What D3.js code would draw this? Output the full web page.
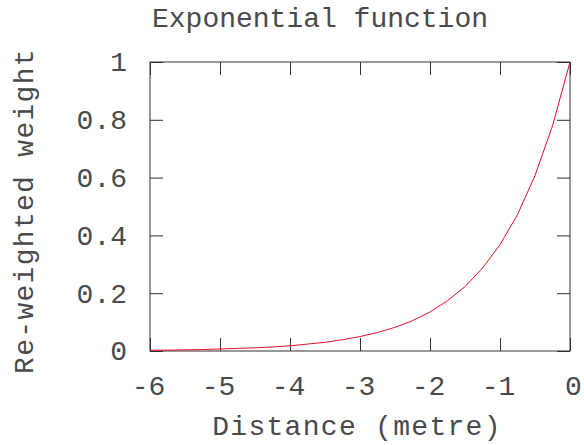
<!DOCTYPE html>
<html>
<head>
<meta charset="utf-8">
<script src="https://cdn.jsdelivr.net/npm/d3@7"></script>
<style>
  body { margin: 0; background: #fff; }
</style>
</head>
<body>
<div id="chart"></div>
<script>
// values
const distance = [-6, -5.75, -5.5, -5.25, -5, -4.75, -4.5, -4.25, -4, -3.75, -3.5, -3.25,
  -3, -2.75, -2.5, -2.25, -2, -1.75, -1.5, -1.25, -1, -0.75, -0.5, -0.25, 0];
const weight = [0.0025, 0.003, 0.004, 0.005, 0.007, 0.009, 0.011, 0.014, 0.018, 0.024, 0.030, 0.039,
  0.050, 0.064, 0.082, 0.105, 0.135, 0.174, 0.223, 0.287, 0.368, 0.472, 0.607, 0.779, 1.0];
const xTicks = [-6, -5, -4, -3, -2, -1, 0];
const yTicks = [0, 0.2, 0.4, 0.6, 0.8, 1];

const FONT = "'Liberation Mono', 'DejaVu Sans Mono', monospace";
const INK = '#4a4a4a';

const W = 584, H = 445;
const margin = { t: 62, r: 14, b: 94, l: 150 };
const innerWidth = W - margin.l - margin.r;
const innerHeight = H - margin.t - margin.b;

const x = d3.scaleLinear().domain([-6, 0]).range([0, innerWidth]);
const y = d3.scaleLinear().domain([0, 1]).range([innerHeight, 0]);

const svg = d3.select('#chart').append('svg')
  .attr('width', W)
  .attr('height', H)
  .attr('font-family', FONT)
  .attr('font-size', 28);

const plot = svg.append('g')
  .attr('transform', `translate(${margin.l}, ${margin.t})`);

const fmtX = d => String(d).replace('\u2212', '-');
const fmtY = d => String(d);

// ticks pointing inward on all four sides
function styleAxis(g) {
  g.attr('font-family', FONT).attr('font-size', 28);
  g.select('.domain').remove();
  g.selectAll('line').attr('stroke', '#333').attr('stroke-width', 1);
  g.selectAll('text').attr('fill', INK);
}

plot.append('g')
  .attr('transform', `translate(0, ${innerHeight})`)
  .call(d3.axisBottom(x).tickValues(xTicks).tickFormat(fmtX).tickSizeInner(-13).tickPadding(24))
  .call(styleAxis)
  .selectAll('text').attr('dx', d => d === 0 ? '3px' : '-2px');

// mirror ticks, no labels
plot.append('g')
  .call(d3.axisTop(x).tickValues(xTicks).tickSizeInner(-13))
  .call(styleAxis)
  .selectAll('text').remove();

plot.append('g')
  .call(d3.axisLeft(y).tickValues(yTicks).tickFormat(fmtY).tickSizeInner(-13).tickPadding(23))
  .call(styleAxis);

plot.append('g')
  .attr('transform', `translate(${innerWidth}, 0)`)
  .call(d3.axisRight(y).tickValues(yTicks).tickSizeInner(-13))
  .call(styleAxis)
  .selectAll('text').remove();

plot.append('rect')
  .attr('width', innerWidth)
  .attr('height', innerHeight)
  .attr('fill', 'none')
  .attr('stroke', '#333')
  .attr('stroke-width', 1);

const line = d3.line()
  .x((d, i) => x(distance[i]))
  .y(d => y(d));

plot.append('path')
  .datum(weight)
  .attr('d', line)
  .attr('fill', 'none')
  .attr('stroke', '#e0102a')
  .attr('stroke-width', 1);

// title and axis labels
svg.append('text')
  .attr('x', 320)
  .attr('y', 27)
  .attr('text-anchor', 'middle')
  .attr('fill', INK)
  .text('Exponential function');

svg.append('text')
  .attr('x', 357)
  .attr('y', 435)
  .attr('text-anchor', 'middle')
  .attr('fill', INK)
  .attr('letter-spacing', 1.3)
  .text('Distance (metre)');

svg.append('text')
  .attr('transform', 'translate(33, 211) rotate(-90)')
  .attr('text-anchor', 'middle')
  .attr('fill', INK)
  .attr('letter-spacing', 1.3)
  .text('Re-weighted weight');
</script>
</body>
</html>
